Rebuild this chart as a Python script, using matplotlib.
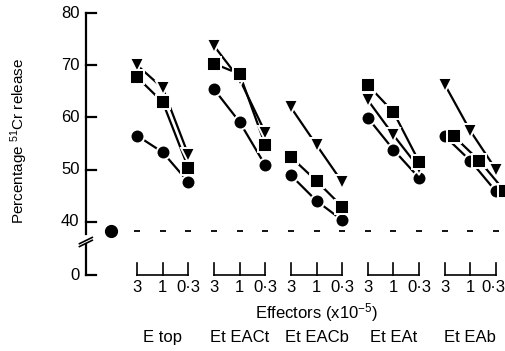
import matplotlib
matplotlib.use('Agg')
import matplotlib.pyplot as plt
import numpy as np

plt.rcParams['font.family'] = 'Liberation Sans'
plt.rcParams['mathtext.fontset'] = 'custom'
plt.rcParams['mathtext.rm'] = 'Liberation Sans'
plt.rcParams['mathtext.it'] = 'Liberation Sans'

# data (percentage 51Cr release)
groups = ['E top', 'Et EACt', 'Et EACb', 'Et EAt', 'Et EAb']
doses = ['3', '1', '0\u00b73']
triangles = [[70.0, 65.6, 52.8],
             [73.7, 67.3, 57.1],
             [61.9, 54.7, 47.6],
             [63.3, 56.6, 50.3],
             [66.3, 57.4, 50.0]]
squares = [[67.7, 62.9, 50.3],
           [70.3, 68.3, 54.7],
           [52.4, 47.8, 42.9],
           [66.2, 61.0, 51.5],
           [56.4, 51.7, 45.8]]
circles = [[56.5, 53.3, 47.6],
           [65.4, 59.1, 50.8],
           [48.9, 44.0, 40.3],
           [59.9, 53.8, 48.4],
           [56.4, 51.7, 45.8]]
control = 38.3
square_dodge = [0, 0, 0, 0, 0.35]

# broken axis: values >= 40 plotted as is, "0" drawn at ZERO_POS
ZERO_POS = 29.8
PX = 5.22  # pixels per unit on the y scale

fig = plt.figure(figsize=(5.05, 3.51), dpi=100)
ax = fig.add_axes([0.170, 1 - 275 / 351, 0.830, 262 / 351])
ax.set_xlim(-2.0, 14.35)
ax.set_ylim(ZERO_POS, 80)
for s in ax.spines.values():
    s.set_visible(False)
ax.set_xticks([])
ax.set_yticks([])

lw = 1.6
k = dict(color='black', clip_on=False)

# y axis with break
ax.plot([-2, -2], [80, 37.6], lw=lw, **k)
ax.plot([-2, -2], [35.7, ZERO_POS], lw=lw, **k)
for d in [0, 0.55]:
    ax.plot([-2.25, -1.75], [36.4 - d - 0.6, 36.4 - d + 0.6], lw=1.2, **k)
yt = [40, 50, 60, 70, 80]
for v in yt:
    ax.plot([-2, -1.6], [v, v], lw=lw, **k)
    ax.text(-2.25, v, str(v), ha='right', va='center', fontsize=12)
ax.plot([-2, -1.6], [ZERO_POS, ZERO_POS], lw=lw, **k)
ax.text(-2.25, ZERO_POS, '0', ha='right', va='center', fontsize=12)

fig.text(19 / 505, 1 - 141 / 351, 'Percentage $^{51}$Cr release', rotation=90,
         ha='center', va='center', fontsize=11)

# control (targets alone) and its dashed reference line
ax.plot([-1], [control], marker='o', ms=8.5, **k)
xs_all = np.arange(15)
ax.plot(xs_all, [control] * len(xs_all), ls='none', marker='_', ms=4, mew=1.3, **k)

ms = dict(o=10, s=9.5, v=10.5)
mk = dict(color='black', mec='white', mew=1.4, clip_on=False)
for g in range(len(groups)):
    x = np.arange(3) + 3 * g
    xs = x + square_dodge[g]
    ax.plot(x, circles[g], lw=lw, **k)
    ax.plot(x, triangles[g], lw=lw, **k)
    ax.plot(xs, squares[g], lw=lw, **k)
    ax.plot(x, circles[g], ls='none', marker='o', ms=ms['o'], **mk)
    ax.plot(x, triangles[g], ls='none', marker='v', ms=ms['v'], **mk)
    ax.plot(xs, squares[g], ls='none', marker='s', ms=ms['s'], **mk)

    # dose bracket under each group
    top = ZERO_POS + 12 / PX
    ax.plot([x[0], x[-1]], [ZERO_POS, ZERO_POS], lw=1.2, **k)
    for xi, lab in zip(x, doses):
        ax.plot([xi, xi], [ZERO_POS, top], lw=1.2, **k)
        xt = min(xi, 13.88)
        ax.text(xt, ZERO_POS - 13 / PX, lab, ha='center', va='center', fontsize=12)
    ax.text(x[1], ZERO_POS - 63 / PX, groups[g], ha='center', va='center', fontsize=12)

ax.text(7, ZERO_POS - 38 / PX, 'Effectors (x10$^{-5}$)', ha='center', va='center', fontsize=12)

fig.savefig('out.png', dpi=100)
